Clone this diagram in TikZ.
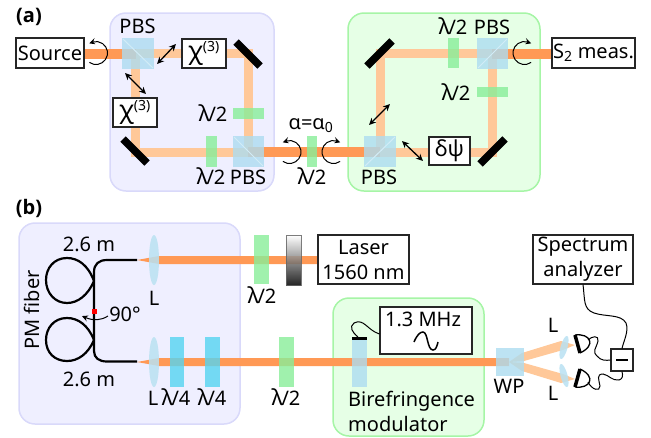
\documentclass[tikz,border=0pt]{standalone}
\usepackage{fontspec}
\setmainfont{Noto Sans}
\newfontfamily\tagfont{Open Sans}
\usetikzlibrary{arrows.meta,bending}
\definecolor{beamdark}{HTML}{FF9955}
\definecolor{beamlight}{HTML}{FFC899}
\definecolor{panelblue}{HTML}{EFEFFF}
\definecolor{panelblueline}{HTML}{D9D9FA}
\definecolor{panelgreen}{HTML}{E6FFE6}
\definecolor{panelgreenline}{HTML}{A6F5A6}
\definecolor{platehalf}{HTML}{88EE99}
\definecolor{platequarter}{HTML}{55D4F0}
\definecolor{cube}{HTML}{ADDCF0}
\newcommand{\lamb}[1]{{\fontsize{22}{25}\selectfont λ}\kern-1.5pt/#1}
\newcommand{\chithree}{{\fontsize{25}{25}\selectfont χ}\textsuperscript{(3)}}
\tikzset{
  panelA/.style={fill=panelblue,draw=panelblueline,line width=1.5pt,rounded corners=16pt},
  panelB/.style={fill=panelgreen,draw=panelgreenline,line width=1.5pt,rounded corners=16pt},
  strongbeam/.style={draw=beamdark,line width=10pt},
  weakbeam/.style={draw=beamlight,line width=9pt},
  cubefill/.style={fill=cube,fill opacity=0.8},
  splitter/.style={draw=cube!55!white,line width=1pt},
  halfplate/.style={fill=platehalf,fill opacity=0.8},
  quarterplate/.style={fill=platequarter,fill opacity=0.8},
  mirrorbar/.style={line width=7.5pt,draw=black},
  lensfill/.style={fill=cube!85!white,fill opacity=0.85},
  lbl/.style={inner sep=0pt,text height=14.3pt,text depth=0pt},
  labelbox/.style={draw=black!85,fill=white,line width=1.1pt,inner sep=0pt,align=center},
  spin/.style={line width=1pt,-{Stealth[length=6pt,width=6pt,bend]}},
  swing/.style={line width=1.3pt,{Stealth[length=7pt,width=6.5pt]}-{Stealth[length=7pt,width=6.5pt]}},
  fiber/.style={line width=2.2pt,draw=black},
  wire/.style={line width=1pt,draw=black},
  every node/.style={font=\fontsize{20}{25}\selectfont}
}
\begin{document}
\begin{tikzpicture}[x=1pt,y=-1pt]
  \useasboundingbox (0,0) rectangle (651,437);

  \draw[panelA] (110,13) rectangle (274,191);
  \draw[panelB] (348,13) rectangle (540,191);
  \draw[panelA] (19,223) rectangle (240,424);
  \draw[panelB] (333,298) rectangle (484,436);

  \coordinate (pbsA) at (135.5,53.5);
  \coordinate (pbsB) at (248,152);
  \coordinate (pbsC) at (380,152);
  \coordinate (pbsD) at (492,53.5);
  \coordinate (wpIn) at (509,362);

  \draw[weakbeam] (pbsA) -- (248,53.5) -- (pbsB) -- (135.5,152) -- cycle;
  \draw[weakbeam] (pbsC) -- (492,152) -- (pbsD) -- (380,53.5) -- cycle;
  \draw[strongbeam] (84,53.5) -- (pbsA);
  \draw[strongbeam] (pbsB) -- (pbsC);
  \draw[strongbeam] (pbsD) -- (552,53.5);

  \fill[cubefill] (122,38) rectangle (154,69);
  \fill[cubefill] (233,136) rectangle (264,167);
  \fill[cubefill] (364,136) rectangle (396,167);
  \fill[cubefill] (477,38) rectangle (508,69);
  \draw[splitter] (123,39) -- (153,68);
  \draw[splitter] (234,137) -- (263,166);
  \draw[splitter] (365,166) -- (395,137);
  \draw[splitter] (478,68) -- (507,39);

  \fill[halfplate] (233,108) rectangle (264,119);
  \fill[halfplate] (206,136) rectangle (217,167);
  \fill[halfplate] (307,136) rectangle (317,167);
  \fill[halfplate] (448,38) rectangle (459,68);
  \fill[halfplate] (477,87) rectangle (508,97);

  \draw[mirrorbar] (236,42) -- (260,66);
  \draw[mirrorbar] (123,139) -- (147,163);
  \draw[mirrorbar] (367,66) -- (392,41);
  \draw[mirrorbar] (480,164) -- (505,139);

  \node[labelbox,minimum width=68pt,minimum height=30pt] (source) at (50,53) {Source};
  \node[labelbox,minimum width=44pt,minimum height=29pt] (chiTop) at (204,53.5) {\chithree};
  \node[labelbox,minimum width=44pt,minimum height=29pt] (chiLeft) at (135,112.5) {\chithree};
  \node[labelbox,minimum width=41pt,minimum height=28pt] (phase) at (449.5,151) {{\fontsize{22}{25}\selectfont δψ}};
  \node[labelbox,minimum width=83pt,minimum height=30pt] (meas) at (593.5,53) {S\textsubscript{2} meas.};

  \draw[swing] (176,44) -- (157,64);
  \draw[swing] (125,73) -- (146,94);
  \draw[swing] (390,104) -- (369,125);
  \draw[swing] (402,141) -- (423,161);

  \draw[spin] ([shift={(125:11.5)}]96,53) arc (125:-125:11.5);
  \draw[spin] ([shift={(125:11.5)}]289.5,152) arc (125:-125:11.5);
  \draw[spin] ([shift={(55:11.5)}]333.5,152) arc (55:305:11.5);
  \draw[spin] ([shift={(55:11.5)}]524.5,53) arc (55:305:11.5);

  \node[inner sep=0pt] (tagA) at (29,17) {\tagfont\bfseries (a)};
  \node[inner sep=0pt] (tagB) at (29,208) {\tagfont\bfseries (b)};
  \node[lbl] (pbsAtext) at (137.5,26) {PBS};
  \node[lbl] (halfAtext) at (213,114) {\lamb{2}};
  \node[lbl] (halfBtext) at (211,177) {\lamb{2}};
  \node[lbl] (pbsBtext) at (248,177) {PBS};
  \node[lbl] (alphatext) at (311,122) {α=α\textsubscript{0}};
  \node[lbl] (halfCtext) at (312,177) {\lamb{2}};
  \node[lbl] (pbsCtext) at (379,177) {PBS};
  \node[lbl] (halfDtext) at (453,27) {\lamb{2}};
  \node[lbl] (pbsDtext) at (492,27) {PBS};
  \node[lbl] (halfEtext) at (456,93) {\lamb{2}};

  \coordinate (tipTop) at (137,260);
  \coordinate (tipBottom) at (137,362);
  \fill[beamdark] (tipTop) -- (159,256) -- (318,256) -- (318,264) -- (159,264) -- cycle;
  \fill[beamdark] (tipBottom) -- (159,358) -- (509,358) -- (509,366) -- (159,366) -- cycle;
  \fill[beamlight] (509,362) -- (522,353) -- (561,341) -- (575,345) -- (563,350) -- (524,361) -- cycle;
  \fill[beamlight] (509,362) -- (522,371) -- (561,383) -- (575,379) -- (563,374) -- (524,363) -- cycle;

  \fill[lensfill] (154,260) ellipse (5 and 25);
  \fill[lensfill] (154,362) ellipse (5 and 25);
  \fill[halfplate] (254,235) rectangle (269,284);
  \shade[top color=white,bottom color=black,draw=black!60,line width=0.8pt,opacity=0.85] (286,235) rectangle (301,285);
  \fill[quarterplate] (170,337) rectangle (184,387);
  \fill[quarterplate] (205,337) rectangle (220,387);
  \fill[halfplate] (279,337) rectangle (294,387);
  \fill[cubefill] (352,337) rectangle (367,387);
  \fill[cubefill] (496,348) rectangle (524,376);
  \fill[lensfill,rotate around={-15:(564,347.5)}] (564,347.5) ellipse (3.5 and 12);
  \fill[lensfill,rotate around={15:(564,375.5)}] (564,375.5) ellipse (3.5 and 12);

  \draw[line width=3pt] (352,338) -- (367,338);
  \node[labelbox,minimum width=92pt,minimum height=47pt] (modbox) at (426,330.5) {};
  \node[lbl] (modtext) at (423,319) {1.3 MHz};
  \draw[line width=1.5pt] (414,342) .. controls (417,335) and (420,332) .. (423,332) .. controls (428,332) and (427,350) .. (433,350) .. controls (436,350) and (437,346) .. (438,342);
  \coordinate (barTop) at (358,337);
  \draw[wire] (barTop) .. controls (352,332) and (349,327) .. (354,323) .. controls (364,318) and (367,330) .. (modbox.west |- 0,334);

  \draw[fiber] (137,260) -- (107,260) .. controls (99,260) and (94,264) .. (94,272) -- (94,351) .. controls (94,358) and (99,361.5) .. (107,361.5) -- (137,361.5);
  \draw[fiber] (94,281) .. controls (88,265) and (78,258) .. (67,258) .. controls (54,258) and (46,268) .. (46,280) .. controls (46,293) and (55,303) .. (67,303) .. controls (78,303) and (88,295) .. (94,281);
  \draw[fiber] (94,340) .. controls (88,325) and (78,318) .. (67,318) .. controls (54,318) and (46,328) .. (46,340) .. controls (46,353) and (55,361) .. (67,361) .. controls (78,361) and (88,354) .. (94,340);
  \fill[red] (91.5,308.5) rectangle (96.5,313.5);
  \node[lbl] (twist) at (125,314) {90°};
  \draw[line width=1pt,-{Stealth[length=6pt,width=6pt,bend]}] (108,316) .. controls (100,321) and (92,321) .. (82,316);

  \node[lbl] (lenA) at (89,244) {2.6 m};
  \node[lbl] (lenB) at (89,379) {2.6 m};
  \node[lbl,rotate=90] (pmtext) at (32,310) {PM fiber};
  \node[lbl] (lensAtext) at (154,298) {L};
  \node[lbl] (lensBtext) at (153,398) {L};
  \node[lbl] (qwpAtext) at (176,398) {\lamb{4}};
  \node[lbl] (qwpBtext) at (212,398) {\lamb{4}};
  \node[lbl] (halfFtext) at (262,296) {\lamb{2}};
  \node[lbl] (halfGtext) at (286,398) {\lamb{2}};
  \node[lbl] (wptext) at (509,386) {WP};
  \node[lbl] (lensCtext) at (553,325) {L};
  \node[lbl] (lensDtext) at (553,393) {L};
  \node[lbl,anchor=west] (biretext) at (348,399) {Birefringence};
  \node[lbl,anchor=west] (modtextb) at (348,424) {modulator};

  \node[labelbox,minimum width=91pt,minimum height=49pt] (laser) at (363.5,259.5) {Laser\\1560 nm};
  \node[labelbox,minimum width=100pt,minimum height=49pt] (spectrum) at (583,259.5) {Spectrum\\analyzer};
  \node[labelbox,minimum width=22pt,minimum height=22pt] (balance) at (622,360) {};
  \draw[line width=2pt] (616,360) -- (628,360);

  \draw[line width=3.5pt] (575,335) -- (580,353);
  \draw[line width=1.3pt] (575,335) .. controls (590,333) and (597,345) .. (580,353);
  \draw[line width=3.5pt] (580,369) -- (575,387);
  \draw[line width=1.3pt] (575,387) .. controls (590,389) and (597,377) .. (580,369);
  \coordinate (detA) at (588,340);
  \coordinate (detB) at (588,382);
  \draw[wire] (detA) .. controls (592,336) and (599,335) .. (598,341) .. controls (596,349) and (592,351) .. (597,356) .. controls (601,361) and (606,360.5) .. (balance.west);
  \draw[wire] (detB) .. controls (592,390) and (600,392) .. (600,386) .. controls (599,380) and (596,374) .. (603,374) .. controls (609,375) and (612,381) .. (619,380) .. controls (623,379) and (623,375) .. (balance.south);
  \draw[wire] (spectrum.south) .. controls (585,300) and (583,309) .. (594,313) .. controls (606,317) and (621,314) .. (626,323) .. controls (629,331) and (624,340) .. (balance.north);
\end{tikzpicture}
\end{document}
